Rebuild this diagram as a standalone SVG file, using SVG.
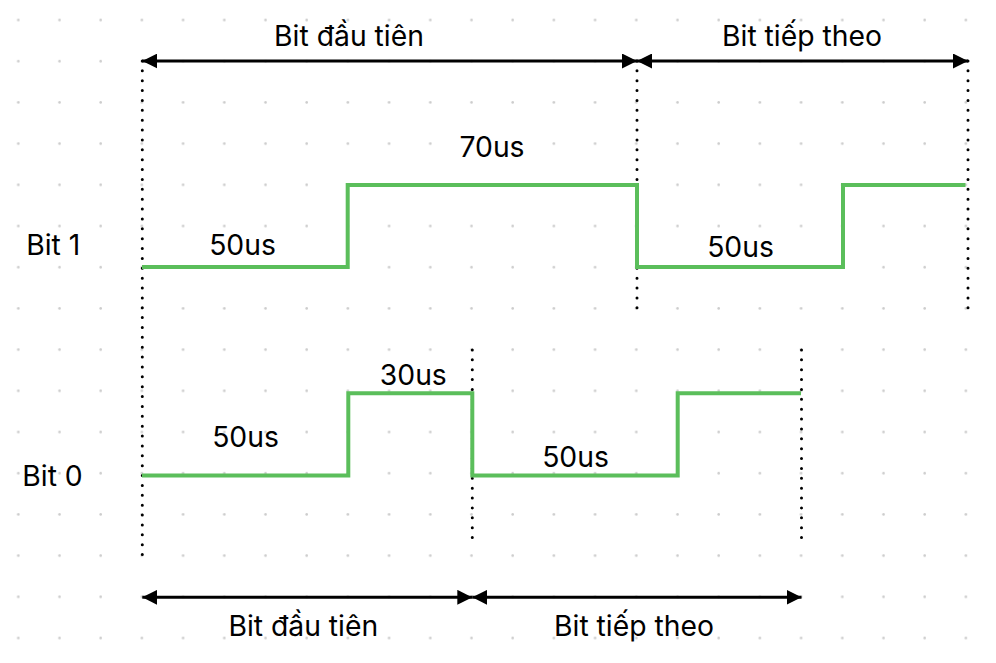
<svg xmlns="http://www.w3.org/2000/svg" width="996" height="663" viewBox="0 0 996 663">
<style>
  text { font-family: Inter, "Liberation Sans", "DejaVu Sans", sans-serif; font-size: 28.3px; fill: #000; text-anchor: middle; }
  .wave { fill: none; stroke: #5bbe5b; stroke-width: 4; stroke-linejoin: miter; }
  .dots { fill: none; stroke: #000; stroke-width: 3; stroke-linecap: round; stroke-dasharray: 0 9.87; }
  .arr { fill: none; stroke: #000; stroke-width: 3; }
</style>
<defs>
  <pattern id="grid" x="0" y="0" width="41.2" height="41.2" patternUnits="userSpaceOnUse">
    <circle cx="18.3" cy="20" r="1.3" fill="#cccccc"/>
  </pattern>
  <marker id="ah" viewBox="0 0 15 15" refX="15" refY="7.5" markerWidth="15" markerHeight="15" markerUnits="userSpaceOnUse" orient="auto-start-reverse">
    <path d="M0,0 L15,7.5 L0,15 Z" fill="#000"/>
  </marker>
</defs>
<rect width="996" height="663" fill="#fff"/>
<rect width="996" height="663" fill="url(#grid)"/>

<g id="guides">
  <line class="dots" x1="142.3" y1="61" x2="142.3" y2="555"/>
  <line class="dots" x1="637" y1="61" x2="637" y2="308"/>
  <line class="dots" x1="968" y1="61" x2="968" y2="308"/>
  <line class="dots" x1="472.3" y1="350" x2="472.3" y2="547"/>
  <line class="dots" x1="801.5" y1="350" x2="801.5" y2="547"/>
</g>

<g id="wave-bit1">
  <path class="wave" d="M142,267 H347.7 V185 H637 V267 H843 V185 H965.5"/>
</g>
<g id="wave-bit0">
  <path class="wave" d="M142,475.5 H348.3 V393.3 H472.3 V475.5 H677.7 V393.3 H801"/>
</g>

<g id="connectors">
  <line class="arr" x1="142.3" y1="61" x2="637" y2="61" marker-start="url(#ah)" marker-end="url(#ah)"/>
  <line class="arr" x1="637" y1="61" x2="968" y2="61" marker-start="url(#ah)" marker-end="url(#ah)"/>
  <line class="arr" x1="142.3" y1="597.3" x2="472.3" y2="597.3" marker-start="url(#ah)" marker-end="url(#ah)"/>
  <line class="arr" x1="472.3" y1="597.3" x2="801.5" y2="597.3" marker-start="url(#ah)" marker-end="url(#ah)"/>
</g>

<g id="labels">
  <text x="349" y="46">Bit đầu tiên</text>
  <text x="802" y="46">Bit tiếp theo</text>
  <text x="492" y="156.7">70us</text>
  <text x="53.3" y="255">Bit 1</text>
  <text x="242.5" y="255">50us</text>
  <text x="740.5" y="256.7">50us</text>
  <text x="413.3" y="385">30us</text>
  <text x="245.5" y="446.7">50us</text>
  <text x="575.5" y="466.7">50us</text>
  <text x="52.5" y="486">Bit 0</text>
  <text x="303.3" y="636">Bit đầu tiên</text>
  <text x="634" y="636">Bit tiếp theo</text>
</g>
</svg>
